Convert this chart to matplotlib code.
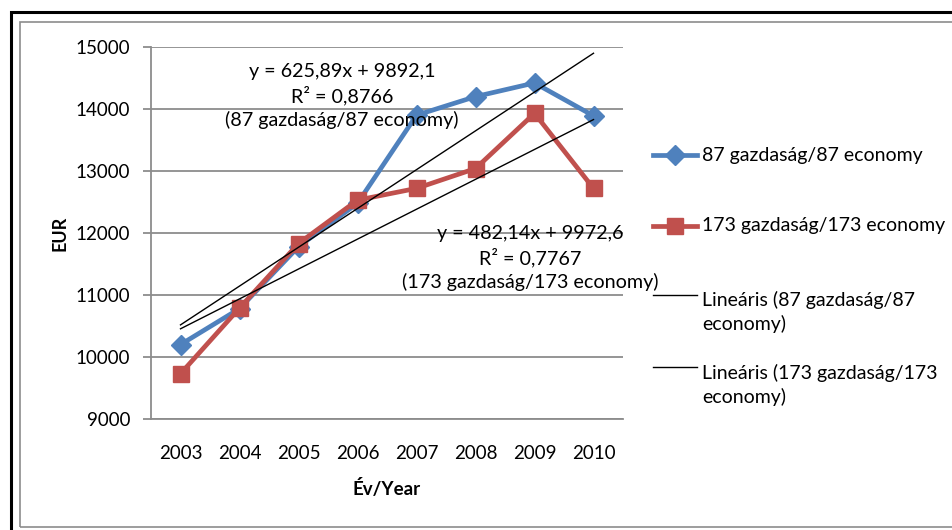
import matplotlib.pyplot as plt
from matplotlib.lines import Line2D
from matplotlib.patches import Rectangle
import numpy as np

plt.rcParams['font.family'] = ['Lato', 'DejaVu Sans']

# adatok
years = ['2003', '2004', '2005', '2006', '2007', '2008', '2009', '2010']
econ87 = [10200, 10780, 11780, 12480, 13900, 14200, 14420, 13890]
econ173 = [9730, 10790, 11830, 12530, 12720, 13040, 13930, 12720]

# trendvonal együtthatók (a diagramról)
trend87 = (625.89, 9892.1, 0.8766)
trend173 = (482.14, 9972.6, 0.7767)

label87 = '87 gazdaság/87 economy'
label173 = '173 gazdaság/173 economy'

W, H = 952, 530
fig = plt.figure(figsize=(W / 100, H / 100), dpi=100)


def px(x, y):
    return x / W, 1 - y / H


# keretek
fig.add_artist(Rectangle(px(11, 600), (W + 50) / W, (600 - 12) / H,
                         transform=fig.transFigure, fill=False,
                         edgecolor='black', linewidth=2.2))
fig.add_artist(Rectangle(px(20, 527), (W + 50) / W, (527 - 22) / H,
                         transform=fig.transFigure, fill=False,
                         edgecolor='#8c8c8c', linewidth=1.2))

ax = fig.add_axes([151 / W, 1 - 419 / H, (623 - 151) / W, (419 - 47) / H])
x = np.arange(1, len(years) + 1)

ax.plot(x, econ87, color='#4F81BD', linewidth=3.4, marker='D',
        markersize=10.5, zorder=3)
ax.plot(x, econ173, color='#C0504D', linewidth=3.4, marker='s',
        markersize=11, zorder=3)

for slope, icpt, _ in (trend87, trend173):
    ax.plot(x, slope * x + icpt, color='black', linewidth=1.0, zorder=4)

ax.set_xlim(0.5, 8.5)
ax.set_ylim(9000, 15000)
ax.set_yticks(range(9000, 15001, 1000))
ax.set_xticks(x)
ax.set_xticklabels(years)
ax.yaxis.grid(True, color='#8c8c8c', linewidth=1.3)
ax.set_axisbelow(True)
for s in ('top', 'right'):
    ax.spines[s].set_visible(False)
for s in ('left', 'bottom'):
    ax.spines[s].set_color('#8c8c8c')
    ax.spines[s].set_linewidth(1.3)
ax.tick_params(axis='y', length=6, color='#8c8c8c', width=1.3, pad=9,
               labelsize=13.5)
ax.tick_params(axis='x', length=0, pad=19, labelsize=13.5)

fig.text(*px(60, 233), 'EUR', rotation=90, ha='center', va='center',
         fontsize=13, fontweight='bold')
fig.text(*px(387, 488), 'Év/Year', ha='center', va='center',
         fontsize=13.5, fontweight='bold')

# trendvonal egyenletek
fig.text(*px(342, 96),
         f'y = {trend87[0]:.2f}x + {trend87[1]:.1f}\nR² = {trend87[2]:.4f}\n({label87})'.replace('.', ','),
         ha='center', va='center', fontsize=14.2, linespacing=1.35)
fig.text(*px(530, 258),
         f'y = {trend173[0]:.2f}x + {trend173[1]:.1f}\nR² = {trend173[2]:.4f}\n({label173})'.replace('.', ','),
         ha='center', va='center', fontsize=14.2, linespacing=1.35)

# jelmagyarázat
legend_items = [
    (155, '#4F81BD', 'D', 10.5, 3.4, label87, 155),
    (226, '#C0504D', 's', 11, 3.4, label173, 226),
    (295, 'black', None, 0, 1.0, 'Lineáris (87 gazdaság/87\neconomy)', 312),
    (367, 'black', None, 0, 1.0, 'Lineáris (173 gazdaság/173\neconomy)', 385),
]
for ly, col, mk, ms, lw, txt, ty in legend_items:
    x0, y0 = px(653, ly)
    x1, _ = px(697, ly)
    fig.add_artist(Line2D([x0, x1], [y0, y0], color=col, linewidth=lw,
                          transform=fig.transFigure))
    if mk:
        fig.add_artist(Line2D([(x0 + x1) / 2], [y0], color=col, marker=mk,
                              markersize=ms, transform=fig.transFigure))
    fig.text(*px(702, ty), txt, ha='left', va='center', fontsize=14,
             linespacing=1.35)

fig.savefig('out.png', dpi=100)
